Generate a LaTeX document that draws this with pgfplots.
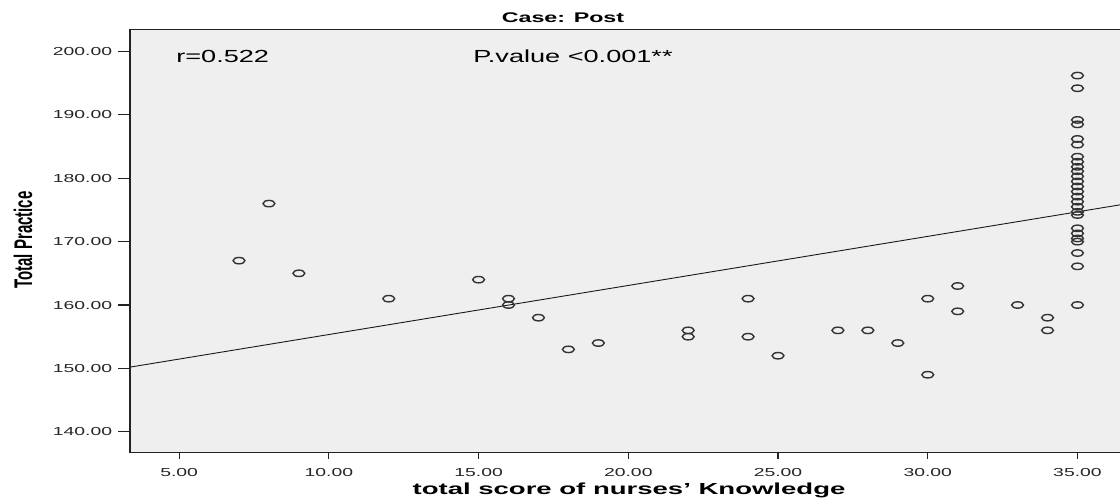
\documentclass[border=0pt]{standalone}
\usepackage{fontspec}
\setmainfont{Liberation Sans}
\usepackage{pgfplots}
\pgfplotsset{compat=1.18}
\definecolor{plotbg}{HTML}{EFEFEF}
\definecolor{mk}{HTML}{333333}
\definecolor{axc}{HTML}{222222}
\begin{document}
\begin{tikzpicture}[x=1pt,y=1pt]
\useasboundingbox (0,0) rectangle (1120,502);
\begin{axis}[
  at={(130pt,49.3pt)}, anchor=south west,
  scale only axis, width=990pt, height=423.4pt,
  xmin=3.36, xmax=36.42, ymin=136.7, ymax=203.5,
  axis x line*=bottom, axis y line*=left,
  axis line style={line width=1.3pt, color=axc},
  axis background/.style={fill=plotbg},
  xtick={5,10,...,35}, ytick={140,150,...,200},
  tick align=outside,
  major tick length=12pt,
  ytick style={line width=1.2pt, color=axc},
  xtick style={line width=1.2pt, color=axc, /pgfplots/major tick length=6pt},
  scaled ticks=false,
  x tick label style={font=\fontsize{11.6}{13}\selectfont, xscale=1.67, color=black!85,
     /pgf/number format/fixed, /pgf/number format/fixed zerofill,
     /pgf/number format/precision=2, /pgf/number format/assume math mode=true},
  y tick label style={font=\fontsize{11.6}{13}\selectfont, xscale=1.67, color=black!85,
     /pgf/number format/fixed, /pgf/number format/fixed zerofill,
     /pgf/number format/precision=2, /pgf/number format/assume math mode=true},
  clip=true,
  extra description/.code={\draw[line width=1.3pt, axc] (0,1) -- (1,1);},
]
\addplot[color=black!90, line width=0.9pt] coordinates {(3.36,150.2) (36.42,175.8)};
\addplot[only marks, mark=o, mark size=3.2pt,
  mark options={xscale=1.85, line width=1.4pt, draw=mk}] coordinates {
(7,167) (8,176) (9,165) (12,161) (15,164) (16,161) (16,160) (17,158) (18,153) (19,154)
(22,156) (22,155) (24,161) (24,155) (25,152) (27,156) (28,156) (29,154)
(30,161) (30,149) (31,163) (31,159) (33,160) (34,158) (34,156)
(35,160) (35,166.1) (35,168.2) (35,170.0) (35,170.5) (35,171.3) (35,172.1)
(35,174.2) (35,174.7) (35,175.5) (35,176.3) (35,177.1) (35,177.9) (35,178.7)
(35,179.5) (35,180.3) (35,181.1) (35,181.8) (35,182.6) (35,183.4)
(35,185.3) (35,186.2) (35,188.5) (35,189.2) (35,194.2) (35,196.2)
};
\end{axis}
\node[font=\bfseries\fontsize{14}{16}\selectfont, xscale=1.66, inner sep=0] at (563,484) {Case: Post};
\node[font=\fontsize{17.5}{20}\selectfont, xscale=1.55, inner sep=0, anchor=base west] at (176,439) {r=0.522};
\node[font=\fontsize{17.5}{20}\selectfont, xscale=1.55, inner sep=0, anchor=base west] at (473,439) {P.value <0.001**};
\node[font=\bfseries\fontsize{16}{18}\selectfont, xscale=1.72, inner sep=0, anchor=base] at (629,7) {total score of nurses’ Knowledge};
\node[font=\bfseries\fontsize{15}{17}\selectfont, rotate=90, yscale=1.7, inner sep=0] at (23,262) {Total Practice};
\end{tikzpicture}
\end{document}
